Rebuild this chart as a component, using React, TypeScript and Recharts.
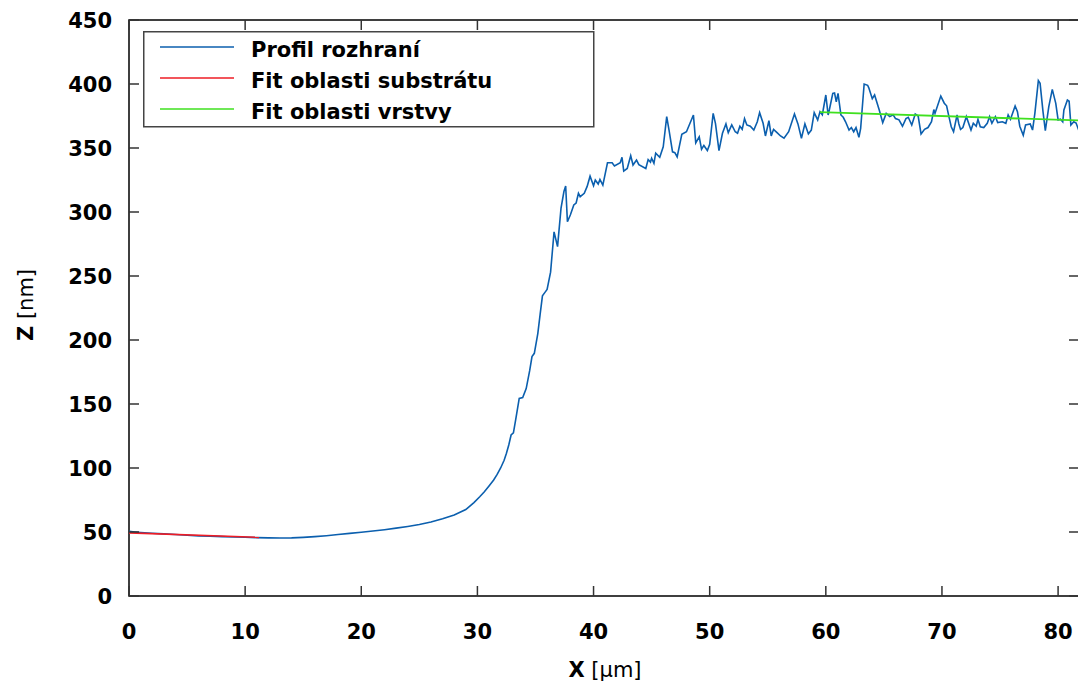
import React from "react";
import { LineChart, Line, XAxis, YAxis, ReferenceArea, Legend } from "recharts";

// ---------- data ----------
const profileX = [
  0, 0.5, 1, 2, 3, 4, 5, 6, 7, 8, 9, 10, 11, 12, 13, 14, 15, 16, 17, 18, 19, 20, 21, 22, 23, 24, 25, 26, 27, 28, 29,
  29.7, 30.2, 30.6, 31.0, 31.4, 31.7, 32.0, 32.3, 32.5, 32.7, 32.9, 33.1, 33.3, 33.6, 33.9, 34.2, 34.5, 34.7, 34.9,
  35.2, 35.4, 35.6, 35.8, 36.0, 36.3, 36.6, 36.9, 37.2, 37.45, 37.6, 37.75, 38.0, 38.3, 38.5, 38.7, 38.85, 39.2,
  39.45, 39.7, 40.0, 40.15, 40.4, 40.55, 40.8, 41.2, 41.6, 41.8, 42.3, 42.45, 42.6, 42.9, 43.2, 43.4, 43.7, 43.9,
  44.5, 44.7, 44.9, 45.0, 45.2, 45.35, 45.7, 46.0, 46.3, 46.5, 46.8, 47.0, 47.2, 47.6, 48.0, 48.6, 48.8, 49.1, 49.3,
  49.5, 49.8, 50.0, 50.3, 50.5, 50.8, 51.1, 51.4, 51.6, 51.9, 52.2, 52.4, 52.6, 52.8, 53.0, 53.2, 53.5, 53.8, 54.1,
  54.3, 54.6, 54.8, 55.1, 55.3, 55.5, 55.8, 56.1, 56.4, 56.8, 57.3, 57.6, 57.9, 58.2, 58.5, 58.75, 59.0, 59.3, 59.5,
  59.7, 60.0, 60.2, 60.3, 60.6, 60.75, 60.9, 61.05, 61.3, 61.5, 61.7, 62.0, 62.2, 62.4, 62.6, 62.85, 63.0, 63.3,
  63.6, 63.7, 64.0, 64.2, 64.6, 64.9, 65.2, 65.5, 65.8, 66.0, 66.3, 66.6, 66.9, 67.1, 67.4, 67.7, 67.95, 68.2, 68.5,
  68.8, 69.1, 69.3, 69.4, 69.9, 70.2, 70.4, 70.6, 70.8, 71.0, 71.3, 71.45, 71.6, 71.8, 72.1, 72.5, 72.7, 72.95,
  73.1, 73.3, 73.6, 73.9, 74.1, 74.3, 74.6, 74.8, 75.2, 75.5, 75.7, 75.9, 76.3, 76.5, 76.7, 77.0, 77.2, 77.6, 77.8,
  78.0, 78.3, 78.45, 78.7, 78.9, 79.2, 79.5, 79.8, 80.0, 80.2, 80.4, 80.5, 80.8, 80.95, 81.1, 81.35, 81.55, 81.75,
  81.8,
];
const profileZ = [
  50.5, 50, 49.6, 49, 48.5, 48, 47.5, 47, 46.8, 46.4, 46.1, 45.9, 45.6, 45.4, 45.3, 45.4, 45.8, 46.4, 47.1, 48, 48.9,
  49.8, 50.8, 51.8, 53, 54.3, 55.8, 57.8, 60.4, 63.3, 67.5,
  73, 77.5, 81.5, 86, 90.6, 95, 100, 106, 111.5, 118, 125.8, 127.5, 138, 154.4, 155, 162, 176, 187, 189.6,
  205, 220, 234.5, 237, 239.5, 253, 284.5, 273, 303, 316, 320.3, 292.4, 297.7, 305.5, 307, 314.6, 312, 314.6,
  320, 328, 320.5, 325, 321.9, 325.5, 321, 338.5, 338.5, 336, 338.5, 342.7, 332, 334, 344, 336.7, 340.6, 337,
  334, 341, 339, 342, 338, 346, 342.7, 351, 374.5, 364, 347, 346.3, 343, 360.7, 362.7, 375.8, 354, 358.8, 349,
  352, 348, 352.9, 377, 369, 348, 361.5, 368.8, 362, 368, 362.7, 361.5, 367, 364.6, 373, 368, 367, 364, 370.5,
  377.6, 369.3, 359.4, 371.3, 359.4, 364.6, 362, 359.4, 357.6, 362.7, 376.6, 368.8, 357.6, 368.8, 361, 364, 377.6, 371.9, 378.4,
  376, 391.4, 375.8, 379.7, 392.7, 393, 386, 392.7, 375.8, 374, 370.5, 364, 366, 362.7, 366, 358.4, 365.4, 400,
  399, 397, 388.5, 391.4, 379.7, 369.8, 377, 374.5, 376, 373, 372, 367, 373, 374, 368, 376.6, 375, 361, 364.6,
  366, 370.5, 380, 377, 390.6, 385, 383, 374.5, 366.6, 362.7, 375.8, 369, 364.6, 366, 374.5, 364, 369.3, 367,
  372.4, 366.6, 366, 369.3, 374.5, 369.3, 374.5, 369.8, 370.5, 369.3, 375.8, 372.4, 382.8, 378.4, 367, 360, 368, 368.8, 364,
  377.1, 402.6, 400.5, 378.4, 363.5, 382.3, 395.8, 384.9, 371.9, 372.5, 370.5, 379.7, 387.5, 386.5, 368, 370.5, 369.5, 364.6,
  365,
];

const substrateFitX = [0, 11.2];
const substrateFitZ = [49.3, 45.8];

const layerFitX = [59.5, 81.8];
const layerFitZ = [378, 371.5];

const xTicks = [0, 10, 20, 30, 40, 50, 60, 70, 80];
const yTicks = [0, 50, 100, 150, 200, 250, 300, 350, 400, 450];

const seriesNames = ["Profil rozhraní", "Fit oblasti substrátu", "Fit oblasti vrstvy"];
const seriesColors = ["#0b5fae", "#ee1c25", "#3fe01f"];

const profileData = profileX.map((x, i) => ({ x, z: profileZ[i] }));
const substrateData = substrateFitX.map((x, i) => ({ x, z: substrateFitZ[i] }));
const layerData = layerFitX.map((x, i) => ({ x, z: layerFitZ[i] }));

// ---------- layout ----------
const W = 1090;
const H = 688;
const PL = 129;
const PR = 1079;
const PT = 20;
const PB = 596;
const TICK = 10;
const FONT = "'DejaVu Sans', sans-serif";
const TICK_COLOR = "#333";

const XTick = (props: any) => {
  const { x, payload } = props;
  return (
    <g>
      <line x1={x} x2={x} y1={PB} y2={PB - TICK} stroke={TICK_COLOR} strokeWidth={1.5} />
      <line x1={x} x2={x} y1={PT} y2={PT + TICK} stroke={TICK_COLOR} strokeWidth={1.5} />
      <text x={x} y={PB + 43} textAnchor="middle" fontFamily={FONT} fontWeight="bold" fontSize={21} fill="#000">
        {payload.value}
      </text>
    </g>
  );
};

const YTick = (props: any) => {
  const { y, payload } = props;
  return (
    <g>
      <line x1={PL} x2={PL + TICK} y1={y} y2={y} stroke={TICK_COLOR} strokeWidth={1.5} />
      <line x1={PR - TICK} x2={PR} y1={y} y2={y} stroke={TICK_COLOR} strokeWidth={1.5} />
      <text x={112} y={y + 7.5} textAnchor="end" fontFamily={FONT} fontWeight="bold" fontSize={21} fill="#000">
        {payload.value}
      </text>
    </g>
  );
};

const LegendBox = () => {
  const lineYs = [16, 47, 78];
  return (
    <svg width={452} height={97} style={{ display: "block" }}>
      <rect x={0.75} y={0.75} width={450} height={95} fill="#fff" stroke="#444" strokeWidth={1.5} />
      {seriesNames.map((name, i) => (
        <g key={name}>
          <line x1={17} x2={91} y1={lineYs[i]} y2={lineYs[i]} stroke={seriesColors[i]} strokeWidth={1.6} />
          <text x={108} y={lineYs[i] + 9.5} fontFamily={FONT} fontWeight="bold" fontSize={21} fill="#000">
            {name}
          </text>
        </g>
      ))}
    </svg>
  );
};

export default function App() {
  return (
    <div
      style={{
        position: "absolute",
        left: 0,
        top: 0,
        width: 1078,
        height: 688,
        overflow: "hidden",
        background: "#fff",
      }}
    >
      <LineChart
        width={W}
        height={H}
        margin={{ top: PT, right: W - PR, bottom: 32, left: PL - 60 }}
      >
        <XAxis
          dataKey="x"
          type="number"
          domain={[0, 81.8]}
          ticks={xTicks}
          interval={0}
          height={60}
          axisLine={false}
          tickLine={false}
          tick={XTick}
          allowDataOverflow
        />
        <YAxis
          type="number"
          domain={[0, 450]}
          ticks={yTicks}
          interval={0}
          width={60}
          axisLine={false}
          tickLine={false}
          tick={YTick}
          allowDataOverflow
        />
        <ReferenceArea
          x1={0}
          x2={81.8}
          y1={0}
          y2={450}
          fill="none"
          fillOpacity={0}
          stroke="#000"
          strokeWidth={1.5}
          ifOverflow="visible"
        />
        <Legend
          layout="horizontal"
          verticalAlign="middle"
          align="center"
          content={() => <LegendBox />}
          wrapperStyle={{ position: "absolute", left: 143, top: 31, width: 452, height: 97 }}
        />
        <Line
          data={profileData}
          dataKey="z"
          name={seriesNames[0]}
          stroke={seriesColors[0]}
          strokeWidth={1.6}
          dot={false}
          type="linear"
          isAnimationActive={false}
        />
        <Line
          data={substrateData}
          dataKey="z"
          name={seriesNames[1]}
          stroke={seriesColors[1]}
          strokeWidth={1.6}
          dot={false}
          type="linear"
          isAnimationActive={false}
        />
        <Line
          data={layerData}
          dataKey="z"
          name={seriesNames[2]}
          stroke={seriesColors[2]}
          strokeWidth={1.8}
          dot={false}
          type="linear"
          isAnimationActive={false}
        />
      </LineChart>
      <div
        style={{
          position: "absolute",
          left: 0,
          top: 0,
          pointerEvents: "none",
        }}
      >
        <svg width={1078} height={688}>
          <text
            transform="translate(33, 305) rotate(-90)"
            textAnchor="middle"
            fontFamily={FONT}
            fontSize={21}
            fill="#000"
          >
            <tspan fontWeight="bold">Z</tspan>
            <tspan> [nm]</tspan>
          </text>
          <text x={605} y={677} textAnchor="middle" fontFamily={FONT} fontSize={21} fill="#000">
            <tspan fontWeight="bold">X</tspan>
            <tspan> [µm]</tspan>
          </text>
        </svg>
      </div>
    </div>
  );
}
